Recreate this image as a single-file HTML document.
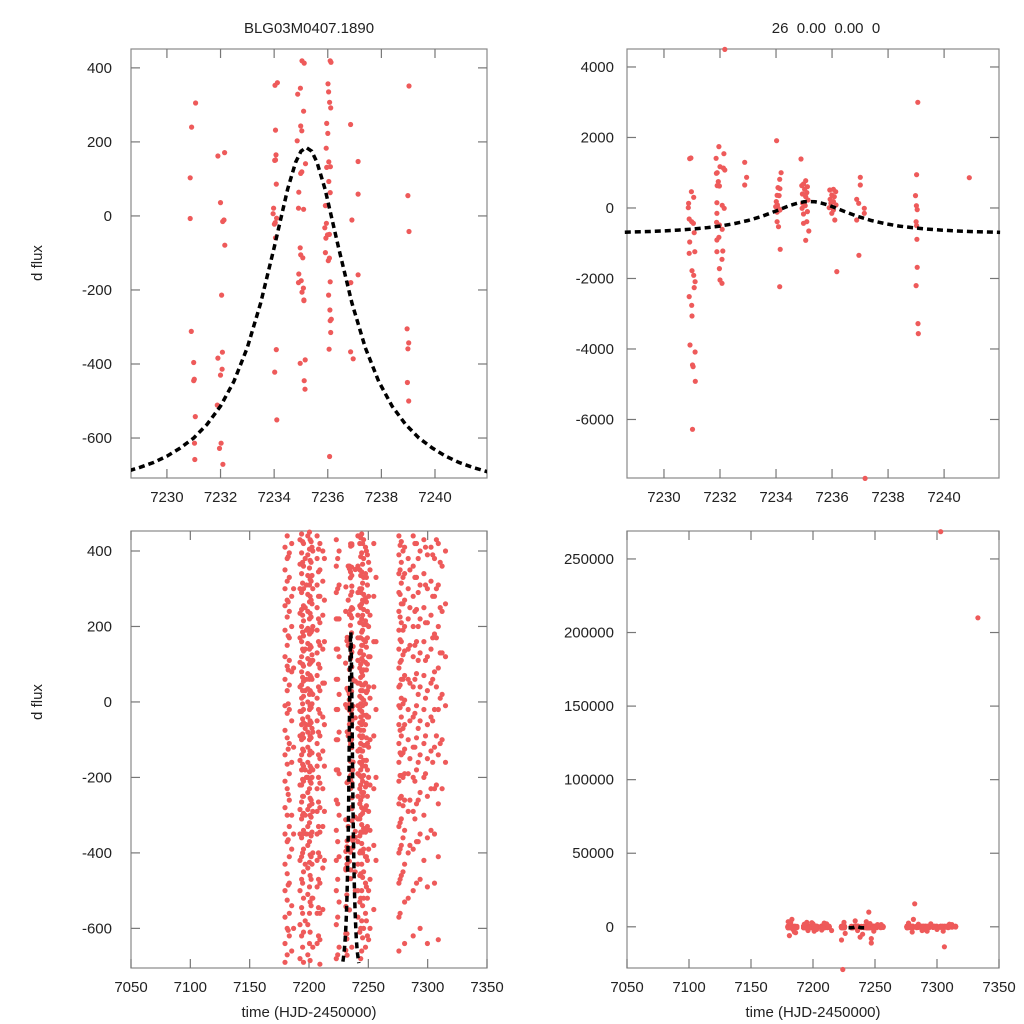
<!DOCTYPE html>
<html><head><meta charset="utf-8"><style>
html,body{margin:0;padding:0;background:#fff;width:1024px;height:1024px;overflow:hidden;}
svg{display:block;font-family:"Liberation Sans",sans-serif;}
</style></head><body>
<svg id="c" width="1024" height="1024" viewBox="0 0 1024 1024">
<text x="309" y="33" font-size="15" text-anchor="middle" fill="#222">BLG03M0407.1890</text>
<text x="826" y="33" font-size="15" text-anchor="middle" fill="#222" xml:space="preserve">26  0.00  0.00  0</text>
<text x="42" y="263" font-size="15" text-anchor="middle" fill="#222" transform="rotate(-90 42 263)">d flux</text>
<text x="42" y="702" font-size="15" text-anchor="middle" fill="#222" transform="rotate(-90 42 702)">d flux</text>
<text x="309" y="1017" font-size="15" text-anchor="middle" fill="#222">time (HJD-2450000)</text>
<text x="813" y="1017" font-size="15" text-anchor="middle" fill="#222">time (HJD-2450000)</text>
</svg>
<script>
// ---- model curve (sampled from the figure) ----
const modelT=[7228.6,7229.0,7229.5,7230,7230.5,7231,7231.5,7232,7232.5,7233,7233.5,7234,7234.5,7234.8,7235.0,7235.2,7235.4,7235.6,7235.9,7236.4,7236.9,7237.4,7237.9,7238.4,7238.9,7239.4,7239.9,7240.4,7240.9,7241.4,7242];
const modelF=[-688,-679,-666,-649,-627,-600,-563,-514,-447,-356,-235,-85,72,145,175,185,175,145,72,-85,-235,-356,-447,-514,-563,-600,-627,-649,-666,-679,-692];
// ---- top-left zoom data ----
const tlT=[7231.07,7230.92,7230.87,7230.87,7230.91,7231.0,7231.0,7231.02,7231.06,7231.03,7231.04,7231.9,7232.15,7232.0,7232.08,7232.13,7232.16,7232.04,7231.9,7232.07,7232.06,7232.0,7231.88,7232.02,7231.96,7232.09,
7234.03,7234.12,7234.05,7234.07,7234.05,7234.02,7234.08,7233.98,7233.96,7234.09,7234.04,7234.01,7234.05,7234.08,7234.02,7234.1,
7235.04,7235.12,7234.98,7234.88,7235.1,7234.99,7235.03,7234.86,7235.17,7235.03,7234.99,7234.92,7234.91,7235.1,7234.97,7234.99,7235.07,7234.92,7235.01,7234.91,7235.09,7235.04,7235.11,7235.11,7235.16,7234.97,7235.12,7235.15,
7236.07,7236.09,7236.12,7236.01,7236.03,7236.07,7236.11,7235.96,7236.0,7235.94,7236.04,7236.1,7235.96,7236.04,7236.09,7235.91,7235.89,7235.95,7235.99,7236.06,7235.93,7235.91,7236.02,7236.06,7236.09,7236.03,7236.08,7236.13,7236.09,7236.11,7236.05,
7236.85,7236.95,7236.85,7237.13,7237.13,7236.9,7237.13,7236.86,
7238.96,7239.02,7239.03,7238.99,7239.03,7238.99,7238.97,7239.02];
const tlF=[305,240,103,-7,-312,-396,-445,-441,-542,-614,-658,162,171,36,-15,-11,-79,-214,-384,-368,-414,-430,-511,-614,-628,-671,
353,360,232,165,151,150,86,21,6,-6,-18,-22,-59,-361,-422,-551,
419,413,345,329,283,243,230,203,141,119,115,64,21,18,-86,-105,-113,-157,-175,-180,-195,-206,-227,-229,-389,-398,-445,-468,-650,
419,415,357,335,307,292,250,223,183,146,133,131,93,63,28,-32,-20,-51,-50,-60,-99,-121,-114,-178,-214,-254,-279,-283,-315,-360,-367,-386,
247,147,59,-11,-159,-180,-305,-343,
351,55,-42,-359,-450,-500,-520,-572];
// ---- top-right zoom data ----
const trT=[7232.17,7239.06,7234.02,7231.96,7230.92,7230.96,7231.86,7232.14,7232.0,7232.12,7232.17,7231.87,7231.9,7231.94,7231.9,7231.98,7232.88,7232.95,7232.88,
7234.18,7234.13,7234.07,7234.14,7234.04,7234.11,7234.01,7234.05,7233.99,7234.08,7234.14,7234.04,7234.04,7234.09,7234.15,7234.13,
7234.89,7235.06,7234.98,7234.92,7235.12,7235.02,7235.1,7234.94,7235.06,7235.14,7234.95,7235.04,7234.93,7235.12,7234.98,7235.1,7234.98,7235.17,7235.06,
7235.92,7236.05,7236.13,7235.99,7236.08,7235.93,7236.05,7235.96,7236.14,7235.9,7236.05,7235.99,7236.1,7236.17,
7237.01,7237.01,7236.88,7236.95,7237.15,7236.88,7237.15,7236.96,7237.18,
7239.02,7238.98,7239.01,7239.04,7239.0,7239.02,7239.03,7239.04,7239.0,7239.07,7239.08,7240.9,
7230.98,7231.06,7230.88,7230.87,7230.9,7230.99,7231.05,7231.08,7230.92,7230.9,7231.1,7231.0,7231.06,7231.11,7231.08,7230.9,7230.99,7231.0,7230.93,7231.11,7231.02,7231.04,7231.12,7231.02,
7231.88,7231.98,7232.08,7231.96,7231.89,7232.1,7231.89,7232.07,7231.98,7232.0,7232.07,7231.89,7232.15,7231.89,7232.08];
const trF=[4500,2998,1910,1740,1400,1418,1409,1541,1172,1130,1078,983,1002,747,634,624,1295,870,652,
1002,813,577,548,359,350,180,85,38,-9,-57,-120,-388,-530,-1173,-2232,
1390,775,681,634,605,530,435,397,321,227,132,66,-9,-104,-170,-388,-435,-652,-917,
511,530,463,369,321,246,180,132,85,9,-57,-151,-340,-1806,
870,652,246,132,-9,-340,-151,-1343,-7670,
945,350,66,-47,-388,-501,-889,-1683,-2203,-3281,-3565,860,
463,303,132,9,-312,-388,-435,-700,-965,-1286,-1239,-1778,-1910,-2090,-2260,-2515,-2761,-3064,-3886,-4085,-4454,-4501,-4917,-6279,
-407,-482,-605,-832,-908,-1220,-1239,-1456,-1721,-2042,-2137,-151,-9,151,76];
// ---- full season data (bottom panels), grouped by night ----
const nightT=[7179.8,7181.6,7183.4,7185.4,7192.4,7193.8,7195.4,7196.8,7199.0,7200.4,7201.8,7203.2,7206.8,7209.2,7211.6,7223.0,7225.4,7233.0,7241.2,7242.8,7244.4,7246.0,7247.6,7249.2,7251.4,7254.6,7275.8,7277.8,7280.6,7283.6,7287.8,7290.6,7293.6,7296.8,7299.8,7302.8,7305.8,7309.0,7312.2,7315.0,
7182.5,7187.0,7194.6,7197.8,7200.9,7202.5,7208.0,7213.0,7224.2,7243.6,7245.2,7248.4,7250.2,7256.5,7276.8,7279.2,7285.0,7289.2,7292.0,7298.2,7304.2,7307.4,7310.6];
const nightF=[
[410,350,300,255,190,120,60,-10,-75,-140,-210,-280,-350,-430,-500,-570,-640,-690],
[440,380,320,270,225,150,95,30,-30,-95,-165,-230,-300,-370,-455,-525,-600,-670],
[395,330,240,170,110,45,-20,-110,-190,-260,-330,-410,-480,-560,-620],
[420,280,200,80,-50,-160,-300,-390,-540,-660],
[430,365,300,235,170,105,40,-25,-90,-155,-220,-285,-350,-420,-500,-590,-680],
[445,395,340,290,245,200,160,120,80,45,10,-25,-60,-100,-140,-180,-220,-265,-310,-360,-410,-470,-545,-620],
[420,360,300,255,215,175,135,95,55,15,-20,-55,-95,-130,-170,-210,-250,-295,-340,-390,-450,-520,-610,-690],
[380,250,140,30,-70,-180,-300,-430,-580],
[440,390,335,285,240,195,155,115,75,35,0,-40,-80,-120,-160,-200,-240,-285,-330,-380,-440,-510,-590,-670],
[450,405,355,310,265,220,180,140,100,60,20,-20,-60,-100,-140,-185,-230,-275,-320,-370,-425,-490,-560,-640],
[425,370,320,270,225,185,145,105,65,25,-15,-55,-95,-135,-175,-215,-260,-305,-355,-410,-470,-540],
[400,300,200,110,20,-80,-180,-290,-400,-520,-650],
[440,380,310,250,190,130,70,10,-50,-110,-170,-230,-290,-350,-420,-490,-560,-640],
[420,350,280,210,150,90,30,-30,-90,-150,-215,-280,-345,-410,-480,-560,-630,-695],
[400,320,230,140,50,-40,-130,-230,-330,-440,-550],
[430,360,290,220,140,60,-20,-100,-180,-260,-340,-420,-500,-590,-680],
[400,310,220,120,20,-80,-190,-300,-410,-530,-650],
[360,270,150,30,-90,-210,-330],
[440,360,290,230,170,110,50,-10,-70,-130,-190,-250,-310,-370,-430,-500,-570],
[420,350,300,255,210,170,130,90,50,15,-20,-55,-90,-125,-160,-195,-230,-270,-310,-355,-400,-460,-530,-610],
[445,395,345,300,260,220,185,150,115,80,45,10,-25,-60,-95,-130,-165,-200,-240,-280,-325,-375,-430,-500,-580,-660],
[430,380,330,285,245,205,165,125,85,45,5,-35,-75,-115,-155,-195,-240,-285,-335,-390,-450,-520,-600],
[410,340,275,215,160,105,50,-5,-60,-115,-170,-225,-285,-345,-410,-480,-560,-650],
[390,310,240,170,100,30,-40,-110,-180,-250,-330,-420,-520,-620],
[350,230,120,10,-100,-220,-340,-470,-600],
[420,280,160,40,-90,-230,-380,-550],
[440,390,340,290,240,190,140,90,40,-10,-60,-110,-160,-210,-270,-330,-400,-480,-570,-660],
[425,370,315,260,210,160,110,60,10,-40,-90,-140,-195,-250,-310,-380,-460],
[410,340,270,200,135,70,5,-60,-125,-190,-260,-340,-430,-530,-640],
[380,300,220,140,60,-20,-100,-190,-290,-400,-520],
[440,360,280,200,120,40,-40,-120,-200,-290,-390,-500,-620],
[420,330,245,160,75,-10,-95,-180,-270,-370,-480],
[400,310,220,130,40,-50,-140,-240,-350,-470,-600],
[430,340,250,160,70,-20,-110,-200,-300,-420],
[390,300,210,120,30,-60,-150,-250,-360,-490,-640],
[410,320,230,140,50,-40,-130,-230,-340],
[380,280,180,80,-20,-120,-230,-350,-480],
[420,310,200,90,-20,-140,-270,-410,-630],
[360,240,130,20,-100,-230],
[400,260,120,-10,-160],
[385,265,175,85,-5,-125,-245,-365,-485,-605],
[300,90,-120,-350,-600],
[425,370,315,230,185,140,100,65,30,-5,-45,-85,-125,-165,-205,-250,-300,-350,-400,-480,-560,-650],
[310,190,60,-60,-200,-350],
[430,375,325,280,235,190,150,110,70,30,-10,-50,-90,-130,-170,-210,-255,-300,-350,-405,-460,-530,-610,-685],
[410,335,260,190,125,60,-5,-70,-135,-200,-270,-345,-430,-520],
[405,345,280,220,160,100,40,-20,-80,-140,-200,-265,-330,-400,-470,-545,-620],
[380,270,160,50,-60,-170,-290,-420],
[380,300,220,140,60,-20,-100,-180,-270,-370,-470,-570,-670],
[435,385,335,290,250,210,170,135,100,65,30,-5,-40,-75,-110,-145,-180,-220,-260,-300,-345,-395,-455,-520,-600,-680],
[420,365,315,270,230,190,150,110,70,30,-10,-50,-90,-130,-170,-210,-250,-295,-345,-400,-465,-540,-625],
[400,330,265,205,145,85,25,-35,-95,-155,-215,-275,-340,-410,-490,-580],
[370,280,200,120,40,-40,-120,-200,-290,-390,-500,-630],
[330,160,-20,-200,-420],
[415,350,285,225,165,105,45,-15,-75,-135,-195,-255,-320,-390,-470,-560],
[400,330,260,190,125,60,-5,-70,-135,-200,-275,-360,-450],
[350,250,150,50,-50,-150,-260,-380],
[420,330,240,150,60,-30,-120,-210,-310],
[380,290,200,110,20,-70,-160,-260,-370],
[410,310,210,110,10,-90,-190],
[390,280,170,60,-50,-160],
[430,300,170,40,-90,-220],
[370,250,130,10,-110]];
// large-amplitude points (visible only on the full-scale panel)
const bigT=[7183,7186,7180,7184,7195,7200,7201,7209,7215,7224,7223,7238,7245,7247,7247,7255,7281,7282,7290,7292,7306,7310,7303,7333,
7181,7182,7185,7193,7196,7199,7203,7207,7211,7225,7226,7234,7236,7240,7243,7246,7249,7252,7277,7280,7285,7288,7295,7300,7305,7312];
const bigF=[5000,-4000,3500,-2000,3000,2000,-3000,2500,-2500,-29000,-9000,-7000,10000,-8000,-11000,1500,5000,15600,-2000,-3000,-13600,1800,268500,210000,
-6000,2500,-3500,1800,-2500,2800,-1800,-2200,2000,3000,-4500,4000,-2500,-5000,3500,2200,-3000,1500,2500,-3500,1800,-2500,2000,-1800,-3000,1500];
// ---- axis ticks ----
const tlYTicks=[-600,-400,-200,0,200,400];
const trYTicks=[-6000,-4000,-2000,0,2000,4000];
const zoomXTicks=[7230,7232,7234,7236,7238,7240];
const fullXTicks=[7050,7100,7150,7200,7250,7300,7350];
const blYTicks=[-600,-400,-200,0,200,400];
const brYTicks=[0,50000,100000,150000,200000,250000];

const NS='http://www.w3.org/2000/svg';
const svg=document.getElementById('c');
function mk(tag,attrs,parent){const e=document.createElementNS(NS,tag);for(const k in attrs)e.setAttribute(k,attrs[k]);(parent||svg).appendChild(e);return e;}

function panel(id,box,xd,yd,xt,yt,lblOff,clip){
  const g=mk('g',{});
  
  
  const sx=v=>box.x0+(v-xd[0])/(xd[1]-xd[0])*(box.x1-box.x0);
  const sy=v=>box.y1-(v-yd[0])/(yd[1]-yd[0])*(box.y1-box.y0);
  const cp=mk('clipPath',{id:id+'-clip'},g);
  mk('rect',{x:box.x0,y:box.y0-3,width:box.x1-box.x0,height:box.y1-box.y0+6},cp);
  const fr=mk('rect',{x:box.x0,y:box.y0,width:box.x1-box.x0,height:box.y1-box.y0,fill:'none',stroke:'#888','stroke-width':1.2},g);
  
  
  xt.forEach(v=>{const x=sx(v);
    mk('line',{x1:x,x2:x,y1:box.y1,y2:box.y1-9,stroke:'#777','stroke-width':1.2},g);
    mk('line',{x1:x,x2:x,y1:box.y0,y2:box.y0+9,stroke:'#777','stroke-width':1.2},g);
    const t=mk('text',{x:x,y:box.y1+24,'font-size':15,'text-anchor':'middle',fill:'#222'},g);t.textContent=v;
    
    });
  yt.forEach(v=>{const y=sy(v);
    mk('line',{x1:box.x0,x2:box.x0+9,y1:y,y2:y,stroke:'#777','stroke-width':1.2},g);
    mk('line',{x1:box.x1,x2:box.x1-9,y1:y,y2:y,stroke:'#777','stroke-width':1.2},g);
    const t=mk('text',{x:box.x0-lblOff,y:y+5,'font-size':15,'text-anchor':'end',fill:'#222'},g);t.textContent=v;
    
    });
  const pg=mk('g',clip?{'clip-path':'url(#'+id+'-clip)'}:{},g);
  
  
  return {sx,sy,pg,g,id};
}
function dot(P,t,f){const c=mk('circle',{cx:P.sx(t).toFixed(1),cy:P.sy(f).toFixed(1),r:2.6,fill:'#ee5a5a'},P.pg);
  
  }
function model(P){let d='';modelT.forEach((t,i)=>{d+=(i?'L':'M')+P.sx(t).toFixed(1)+','+P.sy(modelF[i]).toFixed(1);});
  const p=mk('path',{d:d,fill:'none',stroke:'#000','stroke-width':3.5,'stroke-dasharray':'6,4'},P.pg);
  
  }
function fullData(P){nightT.forEach((t,i)=>nightF[i].forEach(f=>dot(P,t,f)));
  tlT.forEach((t,i)=>dot(P,t,tlF[i]));bigT.forEach((t,i)=>dot(P,t,bigF[i]));}

const TL=panel('top-left',{x0:131,x1:487,y0:49,y1:478},[7228.66,7241.94],[-708,451],zoomXTicks,tlYTicks,19,true);
tlT.forEach((t,i)=>dot(TL,t,tlF[i]));model(TL);
const TR=panel('top-right',{x0:627,x1:999,y0:49,y1:478},[7228.68,7241.96],[-7660,4510],zoomXTicks,trYTicks,13,false);
trT.forEach((t,i)=>dot(TR,t,trF[i]));model(TR);
const BL=panel('bottom-left',{x0:131,x1:487,y0:531,y1:968},[7050,7350],[-705,453],fullXTicks,blYTicks,19,true);
fullData(BL);model(BL);
const BR=panel('bottom-right',{x0:627,x1:999,y0:531,y1:968},[7050,7350],[-28000,269000],fullXTicks,brYTicks,13,false);
fullData(BR);model(BR);
</script>
</body></html>
